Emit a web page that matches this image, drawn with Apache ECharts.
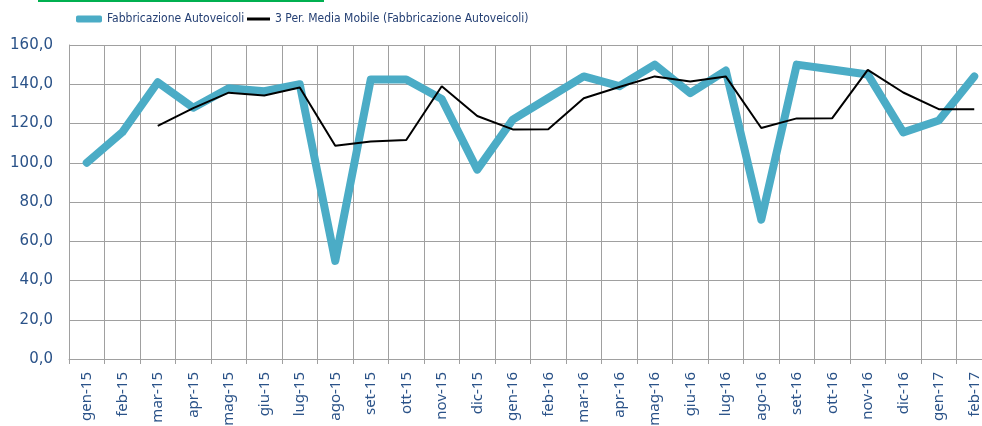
<!DOCTYPE html>
<html>
<head>
<meta charset="utf-8">
<script src="https://cdn.jsdelivr.net/npm/echarts@6/dist/echarts.min.js"></script>
<style>
  html, body { margin: 0; padding: 0; background: #fff; }
  #chart { width: 982px; height: 426px; }
</style>
</head>
<body>
<div id="chart"></div>
<script>
const months = [
  "gen-15", "feb-15", "mar-15", "apr-15", "mag-15", "giu-15", "lug-15", "ago-15",
  "set-15", "ott-15", "nov-15", "dic-15", "gen-16", "feb-16", "mar-16", "apr-16",
  "mag-16", "giu-16", "lug-16", "ago-16", "set-16", "ott-16", "nov-16", "dic-16",
  "gen-17", "feb-17",
];

// Fabbricazione Autoveicoli
const production = [
  100.0, 115.5, 141.0, 128.0, 138.0, 136.5, 140.0, 50.0,
  142.4, 142.4, 132.5, 96.5, 122.0, 133.0, 144.0, 139.0,
  150.0, 135.5, 147.0, 71.0, 150.0, 147.5, 145.0, 115.5,
  121.5, 144.0,
];

// 3 Per. Media Mobile
const movingAvg = [
  null, null, 118.8, 127.8, 135.7, 134.3, 138.3, 108.7,
  110.8, 111.6, 139.0, 123.8, 117.0, 117.1, 132.9, 138.6,
  144.0, 141.4, 144.0, 117.7, 122.6, 122.7, 147.3, 135.8,
  127.3, 127.2,
];

const yTicks = { min: 0, max: 160, interval: 20 };

const labelBlue = "#2a5288";
const gridGray = "#a0a0a0";
const legendFont = {
  fontFamily: "DejaVu Sans Condensed, DejaVu Sans, sans-serif",
  fontSize: 12,
  color: "#243f73",
};

const chart = echarts.init(document.getElementById("chart"));

chart.setOption({
  animation: false,
  graphic: [
    {
      type: "rect",
      shape: { x: 38, y: 0, width: 286, height: 2 },
      style: { fill: "#00b050" },
    },
  ],
  legend: [
    {
      left: 71,
      top: 8,
      icon: "roundRect",
      itemWidth: 26,
      itemHeight: 7,
      textStyle: legendFont,
      data: ["Fabbricazione Autoveicoli"],
    },
    {
      left: 242,
      top: 8,
      icon: "rect",
      itemWidth: 23,
      itemHeight: 3,
      textStyle: legendFont,
      data: ["3 Per. Media Mobile (Fabbricazione Autoveicoli)"],
    },
  ],
  grid: {
    left: 69,
    right: -10,
    top: 45,
    bottom: 67,
    containLabel: false,
    outerBoundsMode: "none",
  },
  xAxis: {
    type: "category",
    data: months,
    boundaryGap: true,
    axisLine: { show: true, lineStyle: { color: gridGray, width: 1 } },
    axisTick: { show: true, length: 5, lineStyle: { color: gridGray } },
    splitLine: { show: true, lineStyle: { color: gridGray, width: 1 } },
    axisLabel: {
      rotate: 90,
      interval: 0,
      margin: 13,
      fontFamily: "Noto Sans",
      fontSize: 15,
      color: labelBlue,
    },
  },
  yAxis: {
    type: "value",
    min: yTicks.min,
    max: yTicks.max,
    interval: yTicks.interval,
    axisLine: { show: true, lineStyle: { color: gridGray, width: 1 } },
    axisTick: { show: false },
    splitLine: { show: true, lineStyle: { color: gridGray, width: 1 } },
    axisLabel: {
      margin: 16,
      fontFamily: "DejaVu Sans",
      fontSize: 15,
      color: labelBlue,
      formatter: (v) => v.toFixed(1).replace(".", ","),
    },
  },
  series: [
    {
      name: "Fabbricazione Autoveicoli",
      type: "line",
      data: production,
      showSymbol: false,
      symbol: "none",
      lineStyle: { color: "#4bacc6", width: 8, cap: "round", join: "round" },
      itemStyle: { color: "#4bacc6" },
      z: 2,
    },
    {
      name: "3 Per. Media Mobile (Fabbricazione Autoveicoli)",
      type: "line",
      data: movingAvg,
      showSymbol: false,
      symbol: "none",
      lineStyle: { color: "#000000", width: 2 },
      itemStyle: { color: "#000000" },
      z: 3,
    },
  ],
});
</script>
</body>
</html>
